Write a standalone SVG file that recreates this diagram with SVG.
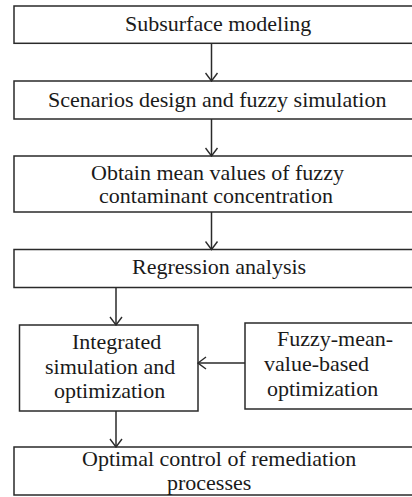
<svg xmlns="http://www.w3.org/2000/svg" width="412" height="497" viewBox="0 0 412 497">
<defs>
<marker id="ah" viewBox="0 0 10 14" refX="9" refY="7" markerWidth="10" markerHeight="14" markerUnits="userSpaceOnUse" orient="auto">
<path d="M1,1 L9,7 L1,13" fill="none" stroke="#2a2a2a" stroke-width="1.4"/>
</marker>
</defs>
<rect width="412" height="497" fill="#fff"/>
<g fill="#fff" stroke="#2a2a2a" stroke-width="1.5">
<rect id="r1" x="14" y="6" width="420" height="37.3"/>
<rect id="r2" x="14" y="81" width="420" height="38"/>
<rect id="r3" x="14" y="156" width="420" height="56"/>
<rect id="r4" x="14" y="249.5" width="420" height="38"/>
<rect id="r5" x="19.5" y="325" width="178.5" height="86"/>
<rect id="r6" x="245" y="323" width="175" height="86"/>
<rect id="r7" x="14" y="447" width="420" height="48"/>
</g>
<g id="n1"><text font-family="Liberation Serif" font-size="22" fill="#1a1a1a" x="125" y="31">Subsurface modeling</text></g>
<g id="n2"><text font-family="Liberation Serif" font-size="22" fill="#1a1a1a" x="48" y="106.5">Scenarios design and fuzzy simulation</text></g>
<g id="n3"><text font-family="Liberation Serif" font-size="22" fill="#1a1a1a" x="91" y="179.5">Obtain mean values of fuzzy</text><text font-family="Liberation Serif" font-size="22" fill="#1a1a1a" x="99" y="203">contaminant concentration</text></g>
<g id="n4"><text font-family="Liberation Serif" font-size="22" fill="#1a1a1a" x="132" y="274">Regression analysis</text></g>
<g id="n5"><text font-family="Liberation Serif" font-size="22" fill="#1a1a1a" x="72" y="349">Integrated</text><text font-family="Liberation Serif" font-size="22" fill="#1a1a1a" x="45" y="373.5">simulation and</text><text font-family="Liberation Serif" font-size="22" fill="#1a1a1a" x="54" y="397.5">optimization</text></g>
<g id="n6"><text font-family="Liberation Serif" font-size="22" fill="#1a1a1a" x="277" y="345.5">Fuzzy-mean-</text><text font-family="Liberation Serif" font-size="22" fill="#1a1a1a" x="264" y="370.5">value-based</text><text font-family="Liberation Serif" font-size="22" fill="#1a1a1a" x="267" y="395.5">optimization</text></g>
<g id="n7"><text font-family="Liberation Serif" font-size="22" fill="#1a1a1a" x="82" y="465.5">Optimal control of remediation</text><text font-family="Liberation Serif" font-size="22" fill="#1a1a1a" x="167" y="490">processes</text></g>
<g id="connectors" stroke="#2a2a2a" stroke-width="1.5" fill="none" marker-end="url(#ah)">
<line x1="211.5" y1="43.3" x2="211.5" y2="81"/>
<line x1="211.5" y1="119" x2="211.5" y2="156"/>
<line x1="211.5" y1="212" x2="211.5" y2="249.5"/>
<line x1="116" y1="287.5" x2="116" y2="325"/>
<line x1="245" y1="363" x2="198" y2="363"/>
<line x1="116" y1="411" x2="116" y2="447"/>
</g>
</svg>
